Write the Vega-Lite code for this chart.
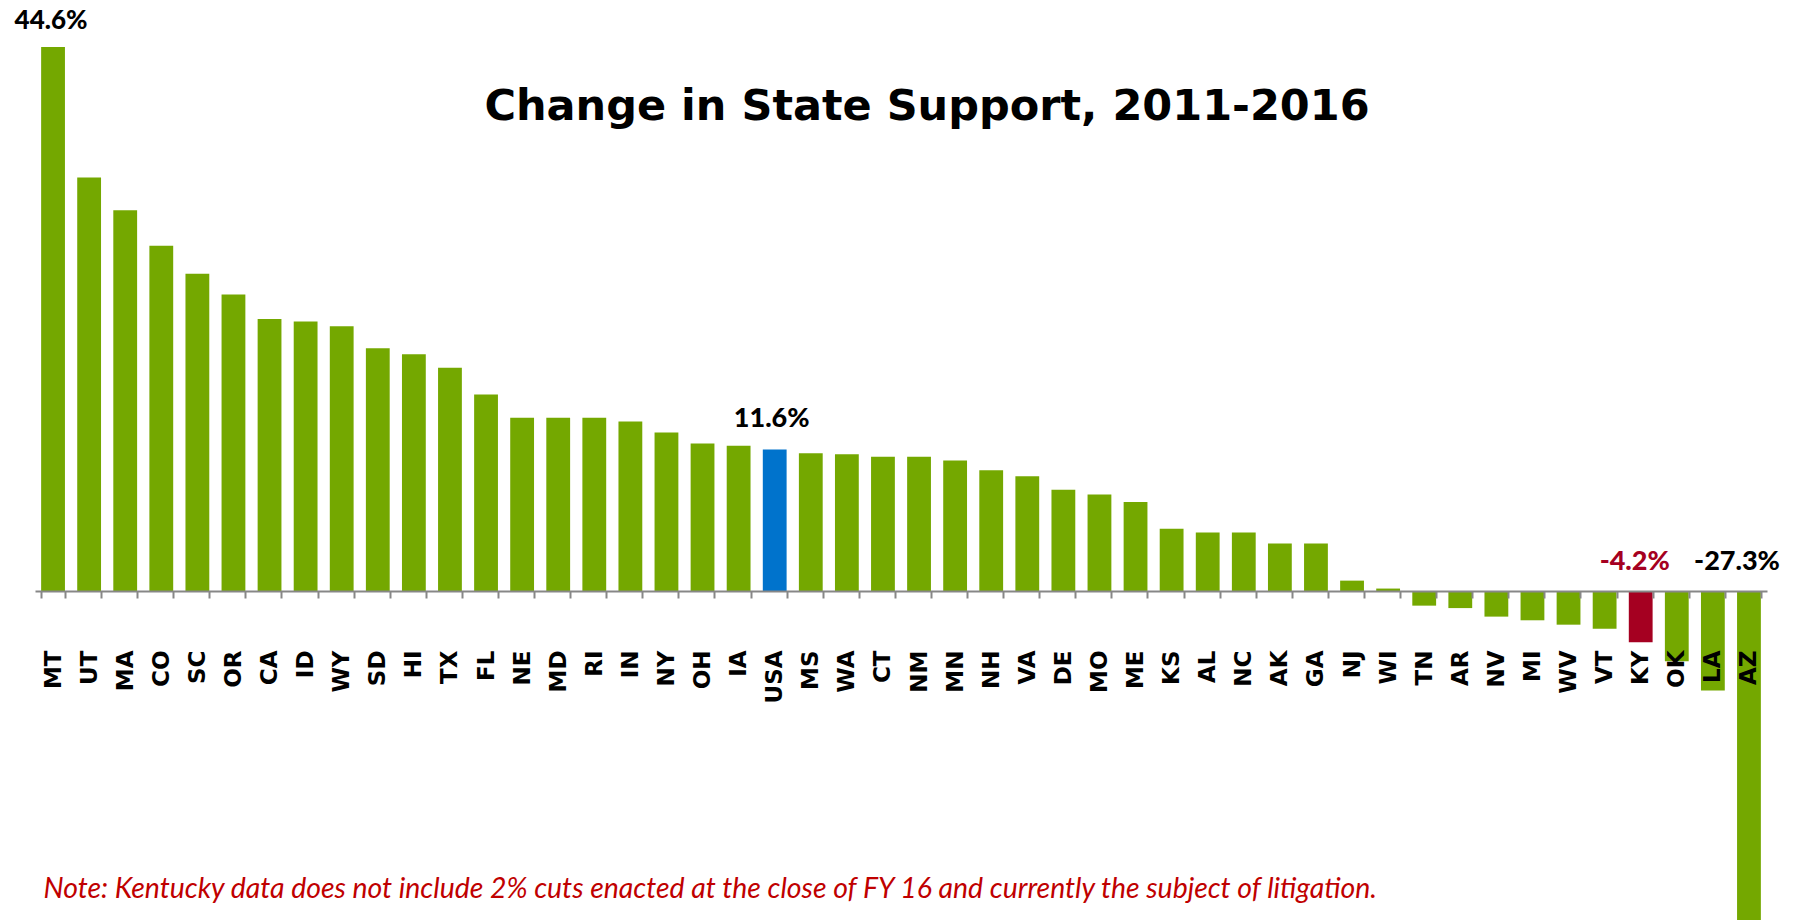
{
  "$schema": "https://vega.github.io/schema/vega-lite/v6.json",
  "autosize": "none",
  "width": 1732,
  "height": 890,
  "padding": {"left": 35, "top": 30, "right": 34, "bottom": 0},
  "background": "white",
  "config": {
    "view": {"stroke": null},
    "locale": {"number": {"decimal": ".", "thousands": ",", "grouping": [3], "currency": ["$", ""], "minus": "-"}}
  },
  "title": {
    "text": "Change in State Support, 2011-2016",
    "font": "DejaVu Sans",
    "fontSize": 43,
    "fontWeight": "bold",
    "color": "black",
    "anchor": "middle",
    "frame": "group",
    "baseline": "alphabetic",
    "dx": 26,
    "dy": 159
  },
  "data": {
    "values": [
      {"state": "MT", "value": 0.446},
      {"state": "UT", "value": 0.339},
      {"state": "MA", "value": 0.312},
      {"state": "CO", "value": 0.283},
      {"state": "SC", "value": 0.260},
      {"state": "OR", "value": 0.243},
      {"state": "CA", "value": 0.223},
      {"state": "ID", "value": 0.221},
      {"state": "WY", "value": 0.217},
      {"state": "SD", "value": 0.199},
      {"state": "HI", "value": 0.194},
      {"state": "TX", "value": 0.183},
      {"state": "FL", "value": 0.161},
      {"state": "NE", "value": 0.142},
      {"state": "MD", "value": 0.142},
      {"state": "RI", "value": 0.142},
      {"state": "IN", "value": 0.139},
      {"state": "NY", "value": 0.130},
      {"state": "OH", "value": 0.121},
      {"state": "IA", "value": 0.119},
      {"state": "USA", "value": 0.116},
      {"state": "MS", "value": 0.113},
      {"state": "WA", "value": 0.112},
      {"state": "CT", "value": 0.110},
      {"state": "NM", "value": 0.110},
      {"state": "MN", "value": 0.107},
      {"state": "NH", "value": 0.099},
      {"state": "VA", "value": 0.094},
      {"state": "DE", "value": 0.083},
      {"state": "MO", "value": 0.079},
      {"state": "ME", "value": 0.073},
      {"state": "KS", "value": 0.051},
      {"state": "AL", "value": 0.048},
      {"state": "NC", "value": 0.048},
      {"state": "AK", "value": 0.039},
      {"state": "GA", "value": 0.039},
      {"state": "NJ", "value": 0.0085},
      {"state": "WI", "value": 0.002},
      {"state": "TN", "value": -0.012},
      {"state": "AR", "value": -0.014},
      {"state": "NV", "value": -0.021},
      {"state": "MI", "value": -0.024},
      {"state": "WV", "value": -0.0276},
      {"state": "VT", "value": -0.031},
      {"state": "KY", "value": -0.042},
      {"state": "OK", "value": -0.0575},
      {"state": "LA", "value": -0.0815},
      {"state": "AZ", "value": -0.273}
    ]
  },
  "encoding": {
    "x": {
      "field": "state",
      "type": "nominal",
      "sort": null,
      "scale": {"paddingInner": 0.34, "paddingOuter": 0.17},
      "axis": {
        "title": "Note: Kentucky data does not include 2% cuts enacted at the close of FY 16 and currently the subject of litigation.",
        "orient": "bottom",
        "offset": -329,
        "zindex": 1,
        "domainColor": "#878787",
        "domainWidth": 2,
        "tickColor": "#878787",
        "tickWidth": 2,
        "tickSize": 7,
        "tickBand": "extent",
        "labelAngle": -90,
        "labelFont": "DejaVu Sans",
        "labelFontWeight": "bold",
        "labelFontSize": 23,
        "labelColor": "black",
        "labelPadding": 52,
        "labelOverlap": false,
        "titleFont": "Lato",
        "titleFontStyle": "italic",
        "titleFontWeight": "normal",
        "titleFontSize": 28.4,
        "titleColor": "#C00000",
        "titleAlign": "left",
        "titleAnchor": "start",
        "titleBaseline": "alphabetic",
        "titleX": 8,
        "titleY": 306
      }
    }
  },
  "layer": [
    {
      "mark": {"type": "bar"},
      "encoding": {
        "y": {
          "field": "value",
          "type": "quantitative",
          "scale": {"domain": [-0.26967, 0.45984], "nice": false, "zero": false, "clamp": true},
          "axis": null
        },
        "color": {
          "condition": [
            {"test": "datum.state === 'USA'", "value": "#0073CC"},
            {"test": "datum.state === 'KY'", "value": "#A50021"}
          ],
          "value": "#74A800"
        }
      }
    },
    {
      "transform": [{"filter": "datum.state === 'MT'"}],
      "mark": {"type": "text", "font": "Lato", "fontWeight": 900, "fontSize": 26, "baseline": "alphabetic", "dy": -18, "dx": -2, "color": "black"},
      "encoding": {
        "y": {"field": "value", "type": "quantitative"},
        "text": {"field": "value", "type": "quantitative", "format": ".1%"}
      }
    },
    {
      "transform": [{"filter": "datum.state === 'USA'"}],
      "mark": {"type": "text", "font": "Lato", "fontWeight": 900, "fontSize": 27, "baseline": "alphabetic", "dy": -22, "dx": -3, "color": "black"},
      "encoding": {
        "y": {"field": "value", "type": "quantitative"},
        "text": {"field": "value", "type": "quantitative", "format": ".1%"}
      }
    },
    {
      "transform": [{"filter": "datum.state === 'KY'"}],
      "mark": {"type": "text", "font": "Lato", "fontWeight": 900, "fontSize": 27, "baseline": "alphabetic", "dy": -21, "dx": -6, "color": "#A50021"},
      "encoding": {
        "y": {"datum": 0, "type": "quantitative"},
        "text": {"field": "value", "type": "quantitative", "format": ".1%"}
      }
    },
    {
      "transform": [{"filter": "datum.state === 'AZ'"}],
      "mark": {"type": "text", "font": "Lato", "fontWeight": 900, "fontSize": 27, "baseline": "alphabetic", "dy": -21, "dx": -12, "color": "black"},
      "encoding": {
        "y": {"datum": 0, "type": "quantitative"},
        "text": {"field": "value", "type": "quantitative", "format": ".1%"}
      }
    }
  ]
}
